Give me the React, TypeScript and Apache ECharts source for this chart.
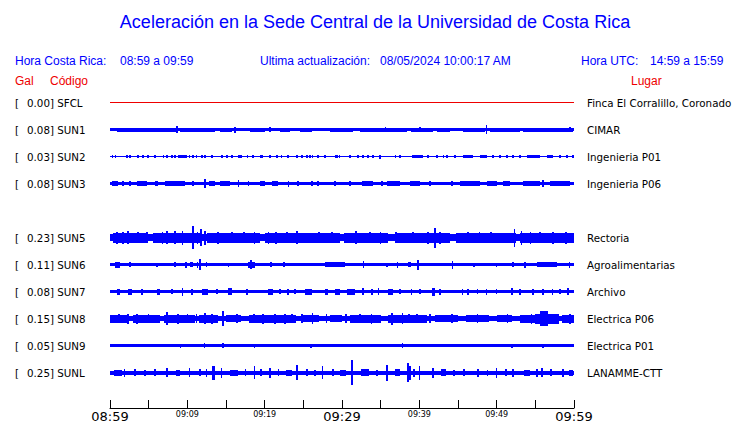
import React, { useEffect, useRef } from 'react';
import * as echarts from 'echarts';

// ---- Stations ----
const codes = ['SFCL', 'SUN1', 'SUN2', 'SUN3', 'SUN5', 'SUN6', 'SUN7', 'SUN8', 'SUN9', 'SUNL'];
const rows = [0, 1, 2, 3, 5, 6, 7, 8, 9, 10];
const peaks = ['0.00', '0.08', '0.03', '0.08', '0.23', '0.11', '0.08', '0.15', '0.05', '0.25'];
const places = [
  'Finca El Corralillo, Coronado', 'CIMAR', 'Ingenieria P01', 'Ingenieria P06',
  'Rectoria', 'Agroalimentarias', 'Archivo', 'Electrica P06', 'Electrica P01', 'LANAMME-CTT',
];
// base half-amplitude of each trace (Gal)
const baseAmp = [0, 0.025, 0.01, 0.03, 0.075, 0.035, 0.035, 0.055, 0.03, 0.04];

// ---- Time axis ----
const startLabel = '08:59';
const xTickLabels = ['08:59', '09:09', '09:19', '09:29', '09:39', '09:49', '09:59'];
const majorLabels = ['08:59', '09:29', '09:59'];

// ---- Envelope bursts per trace: [startMinute, endMinute, halfAmplitudeGal] ----
const sfcl: number[][] = [];
const sun1: number[][] = [
  [0.9, 8.7, 0.04], [8.7, 8.7, 0.07], [9.1, 13.6, 0.04], [14.2, 15.8, 0.04], [16.2, 16.2, 0.06],
  [18.1, 20.0, 0.04], [20.7, 20.7, 0.05], [22.0, 23.3, 0.04], [24.6, 26.1, 0.04], [28.4, 31.4, 0.04],
  [32.3, 38.4, 0.04], [35.6, 35.6, 0.05], [38.9, 41.8, 0.04], [40.1, 40.1, 0.05], [42.3, 44.0, 0.04],
  [45.6, 48.5, 0.04], [48.7, 48.7, 0.085], [49.1, 53.0, 0.04], [53.4, 59.9, 0.04], [59.5, 59.5, 0.05],
];
const sun2: number[][] = [
  [0.3, 0.3, 0.03], [0.7, 0.7, 0.03], [2.2, 2.2, 0.03], [2.6, 2.6, 0.03], [3.6, 3.6, 0.03], [4.3, 4.3, 0.03],
  [4.9, 4.9, 0.03], [5.8, 5.8, 0.03], [6.9, 6.9, 0.03], [7.4, 7.4, 0.03], [8.0, 8.0, 0.03], [8.4, 8.4, 0.03],
  [8.8, 10.0, 0.03], [10.3, 10.3, 0.03], [10.7, 10.7, 0.03], [11.2, 11.2, 0.03], [11.9, 11.9, 0.03],
  [12.3, 12.3, 0.03], [13.2, 13.2, 0.03], [14.5, 14.5, 0.03], [15.1, 15.1, 0.03], [15.8, 15.8, 0.03],
  [16.6, 17.1, 0.03], [17.8, 17.8, 0.03], [18.5, 18.5, 0.03], [19.4, 19.8, 0.03], [20.7, 20.7, 0.03],
  [21.6, 21.6, 0.03], [22.2, 22.2, 0.03], [23.0, 23.0, 0.03], [24.2, 24.2, 0.03], [24.8, 24.8, 0.03],
  [25.5, 25.5, 0.03], [25.9, 25.9, 0.03], [26.2, 26.2, 0.03], [26.9, 26.9, 0.03], [27.8, 27.8, 0.03],
  [29.1, 29.5, 0.03], [29.7, 29.7, 0.03], [31.0, 31.0, 0.03], [32.1, 32.1, 0.03], [32.7, 32.7, 0.03],
  [33.4, 33.4, 0.03], [34.0, 34.0, 0.03], [34.9, 34.9, 0.04], [36.9, 36.9, 0.03], [37.5, 37.5, 0.03],
  [39.1, 40.5, 0.03], [41.1, 41.1, 0.03], [42.3, 42.3, 0.03], [43.1, 43.1, 0.03], [43.6, 43.6, 0.03],
  [44.6, 44.6, 0.03], [45.6, 46.9, 0.03], [47.8, 48.7, 0.03], [49.5, 49.5, 0.03], [50.4, 50.4, 0.03],
  [51.3, 51.3, 0.03], [52.1, 52.1, 0.03], [53.0, 53.0, 0.03], [53.9, 55.6, 0.03], [56.5, 57.3, 0.03],
  [58.2, 58.2, 0.03], [59.1, 59.1, 0.03], [59.9, 59.9, 0.03],
];
const sun3: number[][] = [
  [0.3, 1.0, 0.05], [1.7, 1.7, 0.05], [2.6, 2.6, 0.045], [3.5, 4.8, 0.05], [5.8, 6.2, 0.05],
  [7.1, 9.7, 0.05], [10.7, 10.7, 0.05], [12.3, 12.3, 0.085], [12.8, 13.6, 0.05], [14.2, 15.5, 0.05],
  [16.6, 16.6, 0.07], [17.9, 17.9, 0.05], [19.4, 20.0, 0.05], [21.0, 21.7, 0.05], [23.1, 23.1, 0.06],
  [24.3, 24.3, 0.05], [26.1, 26.1, 0.05], [26.9, 26.9, 0.05], [29.1, 29.1, 0.05], [31.0, 31.0, 0.05],
  [32.6, 34.0, 0.05], [35.2, 35.2, 0.05], [35.8, 37.5, 0.05], [38.8, 40.1, 0.05], [41.4, 41.4, 0.05],
  [44.2, 44.2, 0.05], [45.3, 47.8, 0.05], [48.7, 50.0, 0.055], [50.8, 51.7, 0.05], [53.4, 55.6, 0.05],
  [56.0, 56.0, 0.07], [56.9, 59.5, 0.05],
];
const sun5: number[][] = [
  [0.4, 4.8, 0.1], [5.5, 11.6, 0.1], [12.5, 19.4, 0.1], [20.0, 29.7, 0.1], [30.2, 36.0, 0.1],
  [36.8, 44.0, 0.1], [44.8, 52.5, 0.1], [53.0, 60, 0.1],
  [0.9, 0.9, 0.12], [1.7, 1.7, 0.12], [2.3, 2.3, 0.13], [3.6, 3.6, 0.11], [4.8, 4.8, 0.11], [6.8, 6.8, 0.12],
  [7.4, 7.4, 0.13], [8.4, 8.4, 0.13], [9.4, 9.4, 0.14], [10.7, 10.7, 0.23], [11.3, 11.3, 0.12],
  [11.8, 11.8, 0.17], [12.3, 12.3, 0.14], [14.0, 14.0, 0.12], [15.8, 15.8, 0.11], [17.3, 17.3, 0.11],
  [18.7, 18.7, 0.12], [20.5, 20.5, 0.12], [21.5, 21.5, 0.12], [22.9, 22.9, 0.11], [24.2, 24.2, 0.13],
  [27.0, 27.0, 0.11], [28.7, 28.7, 0.11], [31.8, 31.8, 0.13], [33.6, 33.6, 0.11], [35.0, 35.0, 0.12],
  [37.0, 37.0, 0.11], [39.2, 39.2, 0.11], [41.1, 41.1, 0.12], [42.0, 42.0, 0.2], [42.7, 42.7, 0.12],
  [46.3, 46.3, 0.11], [47.8, 47.8, 0.11], [49.3, 49.3, 0.11], [52.3, 52.3, 0.18], [53.2, 53.2, 0.14],
  [54.4, 54.4, 0.12], [55.6, 55.6, 0.11], [57.3, 57.3, 0.12], [59.0, 59.0, 0.12],
];
const sun6: number[][] = [
  [0.6, 1.3, 0.06], [2.6, 2.6, 0.05], [6.1, 6.1, 0.04], [8.4, 8.4, 0.05], [9.7, 10.0, 0.06],
  [10.3, 10.7, 0.05], [11.3, 11.3, 0.06], [11.6, 11.6, 0.11], [12.5, 12.5, 0.05], [15.3, 15.3, 0.04],
  [17.8, 18.7, 0.06], [18.2, 18.2, 0.09], [20.8, 20.8, 0.05], [22.5, 22.5, 0.05], [27.8, 30.4, 0.045],
  [32.8, 32.8, 0.07], [35.8, 35.8, 0.04], [37.2, 37.2, 0.06], [38.5, 38.9, 0.05], [39.8, 39.8, 0.1],
  [44.3, 44.3, 0.08], [47.1, 47.1, 0.04], [50.0, 50.0, 0.04], [52.1, 52.1, 0.05], [53.7, 53.7, 0.06],
  [55.2, 57.8, 0.045], [59.4, 59.4, 0.06],
];
const sun7: number[][] = [
  [0.9, 1.3, 0.06], [2.3, 2.8, 0.06], [4.1, 4.1, 0.06], [6.1, 6.5, 0.06], [8.0, 8.0, 0.05],
  [9.4, 9.4, 0.08], [10.6, 10.6, 0.06], [11.9, 12.7, 0.06], [13.8, 13.8, 0.05], [15.3, 15.8, 0.07],
  [17.7, 17.7, 0.06], [20.4, 21.1, 0.06], [22.0, 22.0, 0.05], [23.0, 23.0, 0.06], [23.9, 23.9, 0.05],
  [25.2, 26.1, 0.06], [27.8, 28.2, 0.06], [29.1, 29.7, 0.06], [30.6, 31.7, 0.06], [32.7, 32.7, 0.07],
  [33.9, 33.9, 0.06], [34.7, 34.7, 0.07], [35.9, 36.6, 0.06], [37.5, 37.5, 0.05], [39.0, 39.0, 0.06],
  [40.1, 40.1, 0.05], [41.6, 42.0, 0.08], [42.7, 42.7, 0.06], [45.6, 45.6, 0.06], [46.3, 46.3, 0.06],
  [47.5, 47.5, 0.05], [48.7, 48.7, 0.06], [50.0, 50.0, 0.05], [52.0, 52.0, 0.07], [53.0, 53.0, 0.06],
  [54.7, 54.7, 0.06], [56.0, 56.0, 0.06], [57.2, 57.2, 0.06], [58.2, 58.2, 0.05], [59.2, 59.2, 0.07],
];
const sun8: number[][] = [
  [0, 2.5, 0.08], [3, 6.5, 0.08], [7, 11, 0.08], [11.5, 14, 0.08], [15, 17, 0.075], [18, 24, 0.08],
  [25, 27, 0.075], [28.5, 30, 0.075], [31, 35, 0.08], [36, 41, 0.08], [42, 45, 0.075], [46, 49, 0.075],
  [50, 52, 0.075], [53, 55, 0.08], [55, 58, 0.1], [58.5, 60, 0.08],
  [1.2, 1.2, 0.09], [2.3, 2.3, 0.1], [3.5, 3.5, 0.1], [5.0, 5.0, 0.09], [7.4, 7.4, 0.125], [8.8, 8.8, 0.1],
  [10.0, 10.0, 0.09], [11.2, 11.2, 0.09], [12.3, 12.3, 0.11], [13.2, 13.2, 0.1], [14.6, 14.6, 0.15],
  [16.4, 16.4, 0.09], [18.6, 18.6, 0.09], [19.8, 19.8, 0.1], [21.3, 21.3, 0.1], [22.6, 22.6, 0.1],
  [23.5, 23.5, 0.09], [24.8, 24.8, 0.09], [26.2, 26.2, 0.11], [28.0, 28.0, 0.09], [30.5, 30.5, 0.09],
  [32.3, 32.3, 0.09], [33.8, 33.8, 0.1], [36.5, 36.5, 0.12], [37.8, 37.8, 0.11], [38.7, 38.7, 0.09],
  [39.7, 39.7, 0.09], [41.4, 41.4, 0.09], [44.2, 44.2, 0.09], [47.5, 47.5, 0.09], [51.4, 51.4, 0.09],
  [54.5, 54.5, 0.1], [55.6, 56.6, 0.15], [57.2, 57.2, 0.1], [57.8, 57.8, 0.09], [59.5, 59.5, 0.1],
];
const sun9: number[][] = [
  [3.0, 3.0, 0.035], [9.1, 9.1, 0.04], [12.2, 12.2, 0.05], [14.6, 14.6, 0.05], [18.7, 18.7, 0.04],
  [22.0, 22.0, 0.035], [26.0, 26.0, 0.04], [30.5, 30.5, 0.035], [33.5, 33.5, 0.035], [37.8, 37.8, 0.05],
  [41.5, 41.5, 0.035], [45.0, 45.0, 0.035], [52.0, 52.0, 0.04], [56.0, 56.0, 0.04], [58.5, 58.5, 0.035],
];
const sunl: number[][] = [
  [0.5, 1.5, 0.06], [1.9, 1.9, 0.08], [3.2, 3.2, 0.07], [4.5, 4.5, 0.06], [5.8, 5.8, 0.07],
  [7.4, 7.4, 0.09], [8.5, 9.0, 0.06], [10.3, 10.3, 0.09], [11.6, 11.6, 0.07], [12.5, 12.5, 0.08],
  [13.2, 13.6, 0.14], [14.4, 14.4, 0.1], [15.5, 16.5, 0.06], [17.5, 17.5, 0.07], [18.7, 18.7, 0.13],
  [19.5, 19.5, 0.07], [20.7, 20.7, 0.1], [21.8, 21.8, 0.07], [22.8, 23.5, 0.06], [24.2, 24.2, 0.15],
  [25.5, 25.5, 0.07], [26.5, 26.5, 0.06], [27.5, 27.5, 0.13], [28.8, 28.8, 0.07], [29.8, 30.5, 0.06],
  [31.3, 31.3, 0.25], [32.5, 33.5, 0.07], [34.5, 34.5, 0.06], [35.8, 35.8, 0.16], [36.8, 37.5, 0.07],
  [38.5, 38.5, 0.19], [38.8, 38.8, 0.14], [39.3, 39.3, 0.08], [40.0, 40.0, 0.14], [41.8, 41.8, 0.1],
  [42.8, 43.5, 0.07], [44.5, 44.5, 0.06], [45.8, 45.8, 0.07], [47.6, 47.6, 0.08], [48.8, 48.8, 0.06],
  [50.0, 50.0, 0.1], [51.2, 51.2, 0.07], [52.1, 52.1, 0.08], [53.5, 54.3, 0.06], [55.2, 55.2, 0.08],
  [55.9, 55.9, 0.09], [57.0, 57.0, 0.07], [58.6, 58.6, 0.08], [59.3, 59.9, 0.06],
];
const bursts = [sfcl, sun1, sun2, sun3, sun5, sun6, sun7, sun8, sun9, sunl];

const PX_PER_GAL = 50;
const PX_PER_ROW = 27;
const K = PX_PER_GAL / PX_PER_ROW;
const GRID_TOP = 76;
const GRID_H = 332;
const Y_MIN = -1;
const Y_MAX = Y_MIN + GRID_H / PX_PER_ROW;

const blue = '#0000ff';
const red = '#ee0000';

function rowIndex(v: number): number {
  if (Math.abs(v - Math.round(v)) > 1e-6) return -1;
  return rows.indexOf(Math.round(v));
}

function minuteLabel(v: number): string {
  const [h, m] = startLabel.split(':').map(Number);
  const t = h * 60 + m + v;
  const hh = Math.floor(t / 60), mm = t % 60;
  return String(hh).padStart(2, '0') + ':' + String(mm).padStart(2, '0');
}

export default function App() {
  const ref = useRef<HTMLDivElement>(null);
  useEffect(() => {
    if (!ref.current) return;
    const chart = echarts.init(ref.current, null, { renderer: 'svg' });
    const data: number[][] = [];
    codes.forEach((_, i) => {
      data.push([0, 60, rows[i], baseAmp[i], i]);
      bursts[i].forEach((b) => data.push([b[0], b[1], rows[i], b[2], i]));
    });
    const hdrFont = '"Liberation Sans", Arial, sans-serif';
    const txt = (x: number, y: number, text: string, fill: string, size: number, align = 'left', family = hdrFont) => ({
      type: 'text', x, y, silent: true,
      style: { text, fill, fontSize: size, fontFamily: family, align, verticalAlign: 'middle' },
    });
    chart.setOption({
      animation: false,
      backgroundColor: '#ffffff',
      grid: { left: 110, top: GRID_TOP, width: 464, height: GRID_H, outerBoundsMode: 'none', containLabel: false },
      graphic: [
        txt(375, 22, 'Aceleración en la Sede Central de la Universidad de Costa Rica', blue, 18, 'center'),
        txt(15, 61, 'Hora Costa Rica:', blue, 12),
        txt(120, 61, '08:59 a 09:59', blue, 12),
        txt(260, 61, 'Ultima actualización:', blue, 12),
        txt(380, 61, '08/05/2024 10:00:17 AM', blue, 12),
        txt(581, 61, 'Hora UTC:', blue, 12),
        txt(650, 61, '14:59 a 15:59', blue, 12),
        txt(15, 81, 'Gal', red, 12),
        txt(50, 81, 'Código', red, 12),
        txt(631, 81, 'Lugar', red, 12),
      ],
      xAxis: {
        type: 'value', min: 0, max: 60, interval: 5, position: 'bottom',
        splitLine: { show: false },
        axisLine: { show: true, onZero: false, lineStyle: { color: '#000', width: 1 } },
        axisTick: { show: true, inside: true, length: 8, lineStyle: { color: '#000', width: 1 } },
        axisLabel: {
          show: true, margin: 1, showMinLabel: true, showMaxLabel: true, hideOverlap: false,
          formatter: (v: number) => {
            const s = minuteLabel(v);
            if (!xTickLabels.includes(s)) return '';
            return majorLabels.includes(s) ? '{big|' + s + '}' : '{small|' + s + '}';
          },
          rich: {
            big: { fontSize: 13, fontFamily: 'DejaVu Sans', color: '#000', lineHeight: 14 },
            small: { fontSize: 8, fontFamily: 'DejaVu Sans', color: '#000', lineHeight: 11 },
          },
        },
      },
      yAxis: [
        {
          type: 'value', min: Y_MIN, max: Y_MAX, interval: 1, inverse: true, position: 'left',
          splitLine: { show: false }, axisLine: { show: false }, axisTick: { show: false },
          axisLabel: {
            show: true, margin: 95, align: 'left', showMaxLabel: false,
            formatter: (v: number) => {
              const i = rowIndex(v);
              if (i < 0) return '';
              return '{b|[}{t|' + peaks[i] + '] ' + codes[i] + '}';
            },
            rich: {
              b: { width: 12, fontSize: 10.3, fontFamily: 'DejaVu Sans', color: '#000' },
              t: { fontSize: 10.3, fontFamily: 'DejaVu Sans', color: '#000' },
            },
          },
        },
        {
          type: 'value', min: Y_MIN, max: Y_MAX, interval: 1, inverse: true, position: 'right',
          splitLine: { show: false }, axisLine: { show: false }, axisTick: { show: false },
          axisLabel: {
            show: true, margin: 13, align: 'left', showMaxLabel: false,
            fontSize: 10.3, fontFamily: 'DejaVu Sans', color: '#000',
            formatter: (v: number) => {
              const i = rowIndex(v);
              return i < 0 ? '' : places[i];
            },
          },
        },
      ],
      series: [
        {
          type: 'custom',
          xAxisIndex: 0,
          yAxisIndex: 0,
          clip: false,
          encode: { x: [0, 1], y: 2 },
          data,
          renderItem: (_p: any, api: any) => {
            const m0 = api.value(0), m1 = api.value(1), r = api.value(2), a = api.value(3), t = api.value(4);
            const p0 = api.coord([m0, r - a * K]);
            const p1 = api.coord([m1, r + a * K]);
            const cx = (p0[0] + p1[0]) / 2, cy = (p0[1] + p1[1]) / 2;
            const hw = Math.max(Math.abs(p1[0] - p0[0]) / 2, 0.8);
            const hh = Math.max(Math.abs(p1[1] - p0[1]) / 2, 0.5);
            const x0 = Math.round(cx - hw), x1 = Math.max(Math.round(cx + hw), x0 + 1);
            const y0 = Math.floor(cy - hh), y1 = Math.max(Math.floor(cy + hh), y0 + 1);
            return {
              type: 'rect',
              shape: { x: x0, y: y0, width: x1 - x0, height: y1 - y0 },
              style: { fill: t === 0 ? red : blue },
            };
          },
        },
      ],
    });
    return () => chart.dispose();
  }, []);
  return <div ref={ref} style={{ position: 'fixed', left: 0, top: 0, width: 740, height: 423, background: '#fff' }} />;
}
